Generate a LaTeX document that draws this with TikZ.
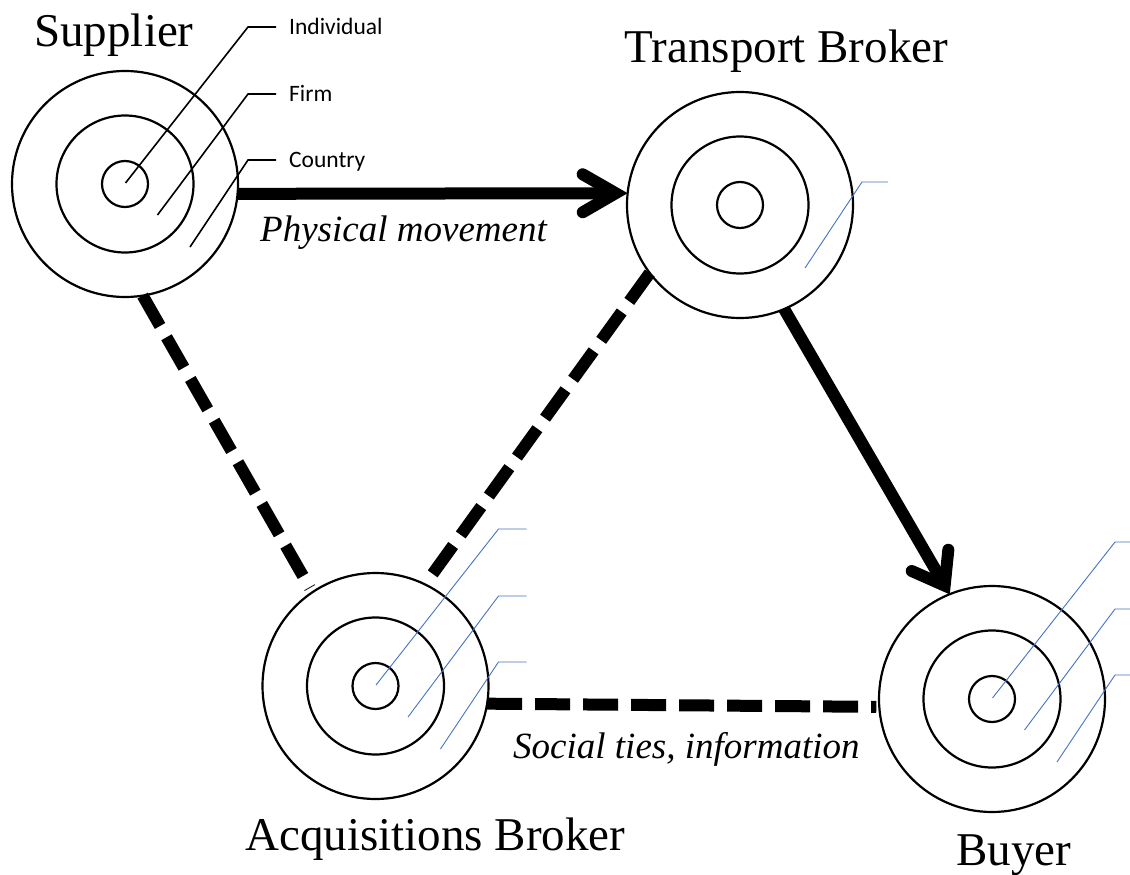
\documentclass[tikz,border=0pt]{standalone}
\usepackage{fontspec}
\setmainfont{Liberation Serif}
\newfontfamily\calfont{Carlito}
\usetikzlibrary{calc}
\definecolor{calloutblue}{HTML}{4472C4}
\newcommand\drawcallouts[2]{%
  \draw[#2] ($(#1)+(0.5,-1)$) -- ++(122.5,-156) -- ++(28,0);
  \draw[#2] ($(#1)+(32.5,31)$) -- ++(90.5,-121) -- ++(28,0);
  \draw[#2] ($(#1)+(65,63)$) -- ++(58,-87) -- ++(28,0);
}
\begin{document}
\begin{tikzpicture}[x=1pt,y=-1pt,
  ring/.style={draw, circle, line width=2.2pt, inner sep=0pt, outer sep=0pt},
  outerring/.style={ring, minimum size=226pt},
  midring/.style={ring, minimum size=137pt},
  corering/.style={ring, minimum size=46pt},
  blackcall/.style={line width=1.6pt, black},
  bluecall/.style={line width=0.9pt, calloutblue},
  shaft/.style={line width=12pt},
  barb/.style={line width=12pt, line cap=round, line join=miter},
  dashline/.style={line width=12pt, dash pattern=on 35pt off 13pt},
  bigname/.style={font=\fontsize{47}{56}\selectfont, inner sep=0pt, anchor=base},
  edgelabel/.style={font=\fontsize{37}{44}\selectfont\itshape, inner sep=0pt, anchor=base west},
  calllabel/.style={font=\calfont\fontsize{23.5}{28}\selectfont, inner sep=0pt, anchor=base west}]
\useasboundingbox (0,0) rectangle (1130,875);

% circles
\node[outerring] (sup) at (125,184) {};
\node[midring] (supm) at (sup) {};
\node[corering] (supc) at (sup) {};
\node[outerring] (tb) at (740,205) {};
\node[midring] (tbm) at (tb) {};
\node[corering] (tbc) at (tb) {};
\node[outerring] (acq) at (375.5,686) {};
\node[midring] (acqm) at (acq) {};
\node[corering] (acqc) at (acq) {};
\node[outerring] (buy) at (992,699) {};
\node[midring] (buym) at (buy) {};
\node[corering] (buyc) at (buy) {};

% callouts
\drawcallouts{sup}{blackcall}
\drawcallouts{acq}{bluecall}
\drawcallouts{buy}{bluecall}
\draw[bluecall] ($(tb)+(65,63)$) -- ++(57,-86) -- ++(26,0);

\node[calllabel] (lind) at (289,35) {Individual};
\node[calllabel] (lfirm) at (289,101.5) {Firm};
\node[calllabel] (lcty) at (289,167.5) {Country};

% physical movement arrow
\coordinate (pv1) at ($(tb.174)!12pt!(sup.-5)$);
\draw[shaft] (sup.-5) -- (pv1);
\draw[barb] ($(pv1)!38pt!30:(sup.-5)$) -- (pv1) -- ($(pv1)!38pt!-30:(sup.-5)$);

% transport to buyer arrow
\coordinate (pv2) at ($(buy.112.5)!10pt!(tb.-67)$);
\draw[shaft] (tb.-67) -- (pv2);
\draw[barb] ($(pv2)!36pt!36:(tb.-67)$) -- (pv2) -- ($(pv2)!36pt!-36:(tb.-67)$);

% dashed social ties
\draw[dashline, shorten >=5pt] (sup.-81) -- (acq.124);
\draw[dashline] (tb.217) -- (acq.64);
\draw[dashline, shorten >=3pt] (acq.-9) -- (buy.184);

% names
\node[bigname] (nsup) at (114,47) {Supplier};
\node[bigname] (ntb) at (786.5,63) {Transport Broker};
\node[bigname] (nacq) at (435.5,850) {Acquisitions Broker};
\node[bigname] (nbuy) at (1014,865) {Buyer};

\node[edgelabel] (lphys) at (260,241) {Physical movement};
\node[edgelabel] (lsoc) at (513,758) {Social ties, information};
\end{tikzpicture}
\end{document}
